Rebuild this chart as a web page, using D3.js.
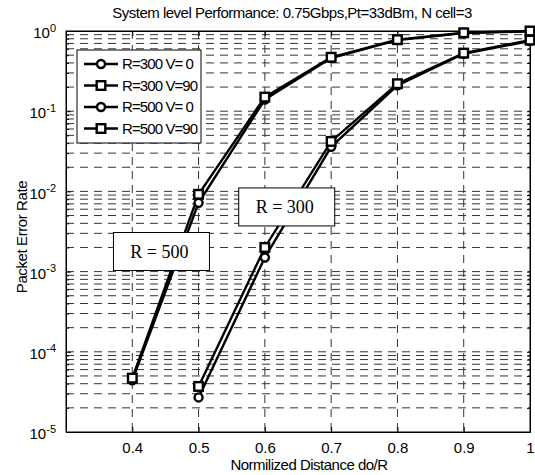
<!DOCTYPE html>
<html><head><meta charset="utf-8">
<script src="https://cdn.jsdelivr.net/npm/d3@7"></script>
<style>body{margin:0;background:#fff}svg{display:block}</style>
</head><body>
<svg id="c" width="535" height="475"></svg>
<script>
const distance = [0.4, 0.5, 0.6, 0.7, 0.8, 0.9, 1.0];
const r300v0  = [null, 2.7e-5, 1.5e-3, 0.036, 0.21, 0.52, 0.75];
const r300v90 = [null, 3.7e-5, 2.0e-3, 0.042, 0.22, 0.53, 0.77];
const r500v0  = [4.4e-5, 7.2e-3, 0.14, 0.46, 0.77, 0.94, 0.99];
const r500v90 = [4.7e-5, 9.2e-3, 0.15, 0.47, 0.78, 0.95, 1.0];
const seriesNames = ["R=300 V= 0", "R=300 V=90", "R=500 V= 0", "R=500 V=90"];
const seriesMarkers = ["circle", "square", "circle", "square"];
const xTicks = [0.4, 0.5, 0.6, 0.7, 0.8, 0.9, 1];
const xTickLabels = ["0.4", "0.5", "0.6", "0.7", "0.8", "0.9", "1"];
const yExponents = [0, -1, -2, -3, -4, -5];
const annotations = [{text: "R = 300", x: 0.633, y: 6.4e-3}, {text: "R = 500", x: 0.444, y: 1.78e-3}];
const titleText = "System level Performance: 0.75Gbps,Pt=33dBm, N cell=3";
const xLabel = "Normilized Distance do/R";
const yLabel = "Packet Error Rate";

const svg = d3.select("#c");
const L = 66, R = 530, T = 31, B = 432;
const x = d3.scaleLinear().domain([0.3, 1]).range([L, R]);
const y = d3.scaleLog().domain([1e-5, 1]).range([B, T]);
const font = "'Liberation Sans', Arial, sans-serif";

// grid
const minorY = [];
for (let k = -5; k < 0; k++) for (let m = 1; m <= 9; m++) minorY.push(m * Math.pow(10, k));
const g = svg.append("g");
g.selectAll("line.hy").data(minorY.filter(v => v > 1e-5)).enter().append("line")
  .attr("x1", L).attr("x2", R).attr("y1", d => y(d)).attr("y2", d => y(d))
  .attr("stroke", "#333").attr("stroke-width", 1).attr("stroke-dasharray", "8,6");
g.selectAll("line.vx").data(xTicks.filter(v => v < 1)).enter().append("line")
  .attr("x1", d => x(d)).attr("x2", d => x(d)).attr("y1", T).attr("y2", B)
  .attr("stroke", "#333").attr("stroke-width", 1).attr("stroke-dasharray", "8,6");

// axes
const ax = svg.append("g").attr("transform", `translate(0,${B})`)
  .call(d3.axisBottom(x).tickValues(xTicks).tickFormat((d, i) => xTickLabels[i]).tickSizeInner(-5).tickSizeOuter(0).tickPadding(10));
ax.selectAll("text").attr("font-family", font).attr("font-size", 15).attr("fill", "#000");
svg.append("g").attr("transform", `translate(0,${T})`)
  .call(d3.axisTop(x).tickValues(xTicks).tickFormat("").tickSizeInner(-5).tickSizeOuter(0));
const ay = svg.append("g").attr("transform", `translate(${L},0)`)
  .call(d3.axisLeft(y).tickValues(yExponents.map(e => Math.pow(10, e))).tickSizeInner(-5).tickSizeOuter(0).tickPadding(10).tickFormat(""));
ay.selectAll(".tick text").each(function (d) {
  const e = Math.round(Math.log10(d));
  const t = d3.select(this).attr("font-family", font).attr("font-size", 15).attr("fill", "#000").attr("dy", "0.45em");
  t.text("10");
  t.append("tspan").attr("dy", "-0.6em").attr("font-size", 11).text(String(e));
});
svg.append("g").attr("transform", `translate(${L},0)`)
  .call(d3.axisLeft(y).tickValues(minorY.filter(v => v > 1e-5 && Math.abs(Math.log10(v) % 1) > 1e-9)).tickSizeInner(-3).tickSizeOuter(0).tickFormat(""));
svg.append("g").attr("transform", `translate(${R},0)`)
  .call(d3.axisRight(y).tickValues(minorY.filter(v => v > 1e-5)).tickSizeInner(-3).tickSizeOuter(0).tickFormat(""));
svg.selectAll(".domain").attr("stroke", "#000");
svg.selectAll(".tick line").attr("stroke", "#000");
svg.append("rect").attr("x", L).attr("y", T).attr("width", R - L).attr("height", B - T)
  .attr("fill", "none").attr("stroke", "#000").attr("stroke-width", 1);

// data
const allSeries = [r300v0, r300v90, r500v0, r500v90];
const line = d3.line().defined(d => d[1] != null).x(d => x(d[0])).y(d => y(d[1]));
function marker(sel, type) {
  if (type === "circle") {
    sel.append("circle").attr("r", 4).attr("fill", "#fff").attr("stroke", "#000").attr("stroke-width", 2.4);
  } else {
    sel.append("rect").attr("x", -4.3).attr("y", -4.3).attr("width", 8.6).attr("height", 8.6)
      .attr("fill", "#fff").attr("stroke", "#000").attr("stroke-width", 2.4);
  }
}
allSeries.forEach((s, i) => {
  const pts = distance.map((d, j) => [d, s[j]]);
  svg.append("path").datum(pts).attr("d", line).attr("fill", "none").attr("stroke", "#000").attr("stroke-width", 2.4);
});
allSeries.forEach((s, i) => {
  const pts = distance.map((d, j) => [d, s[j]]).filter(p => p[1] != null);
  svg.selectAll(null).data(pts).enter().append("g")
    .attr("transform", p => `translate(${x(p[0])},${y(p[1])})`)
    .each(function () { marker(d3.select(this), seriesMarkers[i]); });
});

// annotations
annotations.forEach(a => {
  const cx = x(a.x), cy = y(a.y);
  svg.append("rect").attr("x", cx - 48).attr("y", cy - 19).attr("width", 96).attr("height", 38)
    .attr("fill", "#fff").attr("stroke", "#000").attr("stroke-width", 1);
  svg.append("text").attr("x", cx - 2).attr("y", cy + 6).attr("text-anchor", "middle")
    .attr("font-family", "'Liberation Serif', 'Times New Roman', serif").attr("font-size", 18)
    .attr("xml:space", "preserve").text(a.text);
});

// legend
const lg = svg.append("g");
lg.append("rect").attr("x", 77).attr("y", 50).attr("width", 124).attr("height", 93)
  .attr("fill", "#fff").attr("stroke", "#000").attr("stroke-width", 1);
seriesNames.forEach((n, i) => {
  const ly = 64 + i * 21.5;
  lg.append("line").attr("x1", 84).attr("x2", 118).attr("y1", ly).attr("y2", ly).attr("stroke", "#000").attr("stroke-width", 2.4);
  marker(lg.append("g").attr("transform", `translate(101,${ly})`), seriesMarkers[i]);
  lg.append("text").attr("x", 122).attr("y", ly + 5).attr("font-family", font).attr("font-size", 15)
    .attr("letter-spacing", -0.9).attr("xml:space", "preserve").text(n);
});

// labels
svg.append("text").attr("x", 292).attr("y", 18).attr("text-anchor", "middle").attr("font-family", font)
  .attr("font-size", 15).attr("letter-spacing", -0.5).text(titleText);
svg.append("text").attr("x", 309).attr("y", 470).attr("text-anchor", "middle").attr("font-family", font)
  .attr("font-size", 15).attr("letter-spacing", -0.5).text(xLabel);
svg.append("text").attr("transform", "translate(27,237) rotate(-90)").attr("text-anchor", "middle").attr("font-family", font)
  .attr("font-size", 15).attr("letter-spacing", -0.4).text(yLabel);
</script>
</body></html>
